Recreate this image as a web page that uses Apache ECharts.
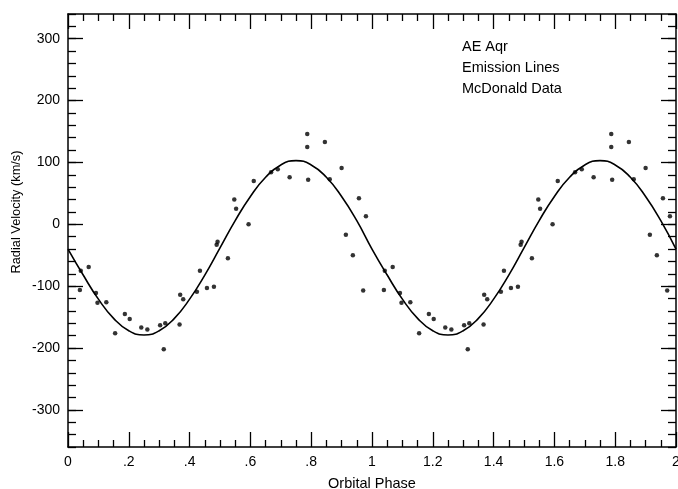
<!DOCTYPE html>
<html>
<head>
<meta charset="utf-8">
<script src="https://cdn.jsdelivr.net/npm/echarts@6/dist/echarts.min.js"></script>
<style>
  html, body { margin: 0; padding: 0; background: #fff; }
  #chart { width: 678px; height: 489px; }
</style>
</head>
<body>
<div id="chart"></div>
<script>
// measured points, one orbital cycle (plotted twice: phase and phase + 1)
const phases = [
  0.039, 0.042, 0.068, 0.092, 0.097, 0.126, 0.155, 0.187, 0.203, 0.241,
  0.261, 0.303, 0.315, 0.320, 0.367, 0.369, 0.379, 0.424, 0.434, 0.457,
  0.480, 0.489, 0.492, 0.526, 0.547, 0.553, 0.594, 0.611, 0.668, 0.690,
  0.729, 0.787, 0.787, 0.790, 0.845, 0.861, 0.900, 0.914, 0.937, 0.957,
  0.971, 0.980
];
const velocities = [
  -106, -75, -69, -111, -127, -126, -176, -145, -153, -167,
  -170, -163, -202, -160, -162, -114, -121, -109, -75, -103,
  -101, -33, -28, -55, 40, 25, 0, 70, 84, 89,
  76, 146, 125, 72, 133, 73, 91, -17, -50, 42,
  -107, 13
];

// fitted curve, read every 0.05 in phase over one cycle
const curvePhases = [0, 0.05, 0.1, 0.15, 0.2, 0.25, 0.3, 0.35, 0.4, 0.45, 0.5,
  0.55, 0.6, 0.65, 0.7, 0.75, 0.8, 0.85, 0.9, 0.95, 1];
const curveVelocities = [-40, -82, -121, -152, -172, -179, -172, -152, -121, -82, -38,
  6, 45, 76, 96, 103, 96, 76, 45, 6, -40];

const yMajorTicks = [-300, -200, -100, 0, 100, 200, 300];
const noteLines = ['AE Aqr', 'Emission Lines', 'McDonald Data'];

const FONT = 'Liberation Sans, Arial, sans-serif';

// two cycles, like the original plot
const points = [];
[0, 1].forEach(k => {
  phases.forEach((p, i) => points.push([p + k, velocities[i]]));
});
const curve = curvePhases.map((p, i) => [p, curveVelocities[i]]);
curvePhases.slice(1).forEach((p, i) => curve.push([p + 1, curveVelocities[i + 1]]));

const lineStyle = { color: '#000', width: 1.5 };
const phaseLabel = v => {
  const r = Math.round(v * 10) / 10;
  return r === 0 ? '0' : String(r).replace(/^0\./, '.');
};

function xAxis(pos, labels) {
  return {
    type: 'value', position: pos, min: 0, max: 2, interval: 0.2,
    axisLine: { show: true, onZero: false, lineStyle },
    axisTick: { show: true, inside: true, length: 15, lineStyle: { color: '#000', width: 1.3 } },
    minorTick: { show: true, splitNumber: 4, length: 7, lineStyle: { color: '#000', width: 1.3 } },
    axisLabel: { show: labels, margin: 8, color: '#000', fontSize: 14, fontFamily: FONT, formatter: phaseLabel },
    splitLine: { show: false },
    name: labels ? 'Orbital Phase' : '',
    nameLocation: 'middle', nameGap: 29,
    nameTextStyle: { color: '#000', fontSize: 14.5, fontFamily: FONT }
  };
}

function yMajor(pos, labels) {
  return {
    type: 'value', position: pos, min: -360, max: 340,
    axisLine: { show: true, onZero: false, lineStyle },
    axisTick: { show: true, inside: true, length: 15, customValues: yMajorTicks, lineStyle: { color: '#000', width: 1.3 } },
    axisLabel: { show: labels, margin: 8, color: '#000', fontSize: 14, fontFamily: FONT, customValues: yMajorTicks },
    splitLine: { show: false }
  };
}

function yMinor(pos) {
  return {
    type: 'value', position: pos, min: -360, max: 340, interval: 20,
    axisLine: { show: false, onZero: false },
    axisTick: { show: true, inside: true, length: 8, lineStyle: { color: '#000', width: 1.3 } },
    axisLabel: { show: false },
    splitLine: { show: false }
  };
}

const chart = echarts.init(document.getElementById('chart'), null, { renderer: 'canvas' });
chart.setOption({
  backgroundColor: '#fff',
  animation: false,
  grid: { left: 68, right: 2, top: 14, bottom: 42, containLabel: false, outerBoundsMode: 'none' },
  xAxis: [xAxis('bottom', true), xAxis('top', false)],
  yAxis: [yMajor('left', true), yMinor('left'), yMajor('right', false), yMinor('right')],
  graphic: [
    // y title sits a bit above the axis middle in the original
    {
      type: 'text', x: 16, y: 212, rotation: Math.PI / 2,
      style: { text: 'Radial Velocity (km/s)', fill: '#000', fontSize: 12.8, fontFamily: FONT,
        align: 'center', verticalAlign: 'middle' }
    },
    ...noteLines.map((t, i) => ({
      type: 'text', left: 462, top: 39 + i * 21,
      style: { text: t, fill: '#000', fontSize: 14.5, fontFamily: FONT }
    }))
  ],
  series: [
    {
      type: 'line', data: curve, xAxisIndex: 0, yAxisIndex: 0,
      smooth: true, showSymbol: false, clip: true,
      lineStyle: { color: '#000', width: 1.6 }
    },
    {
      type: 'scatter', data: points, xAxisIndex: 0, yAxisIndex: 0,
      symbol: 'circle', symbolSize: 4.5,
      itemStyle: { color: '#000' }
    }
  ]
});
</script>
</body>
</html>
